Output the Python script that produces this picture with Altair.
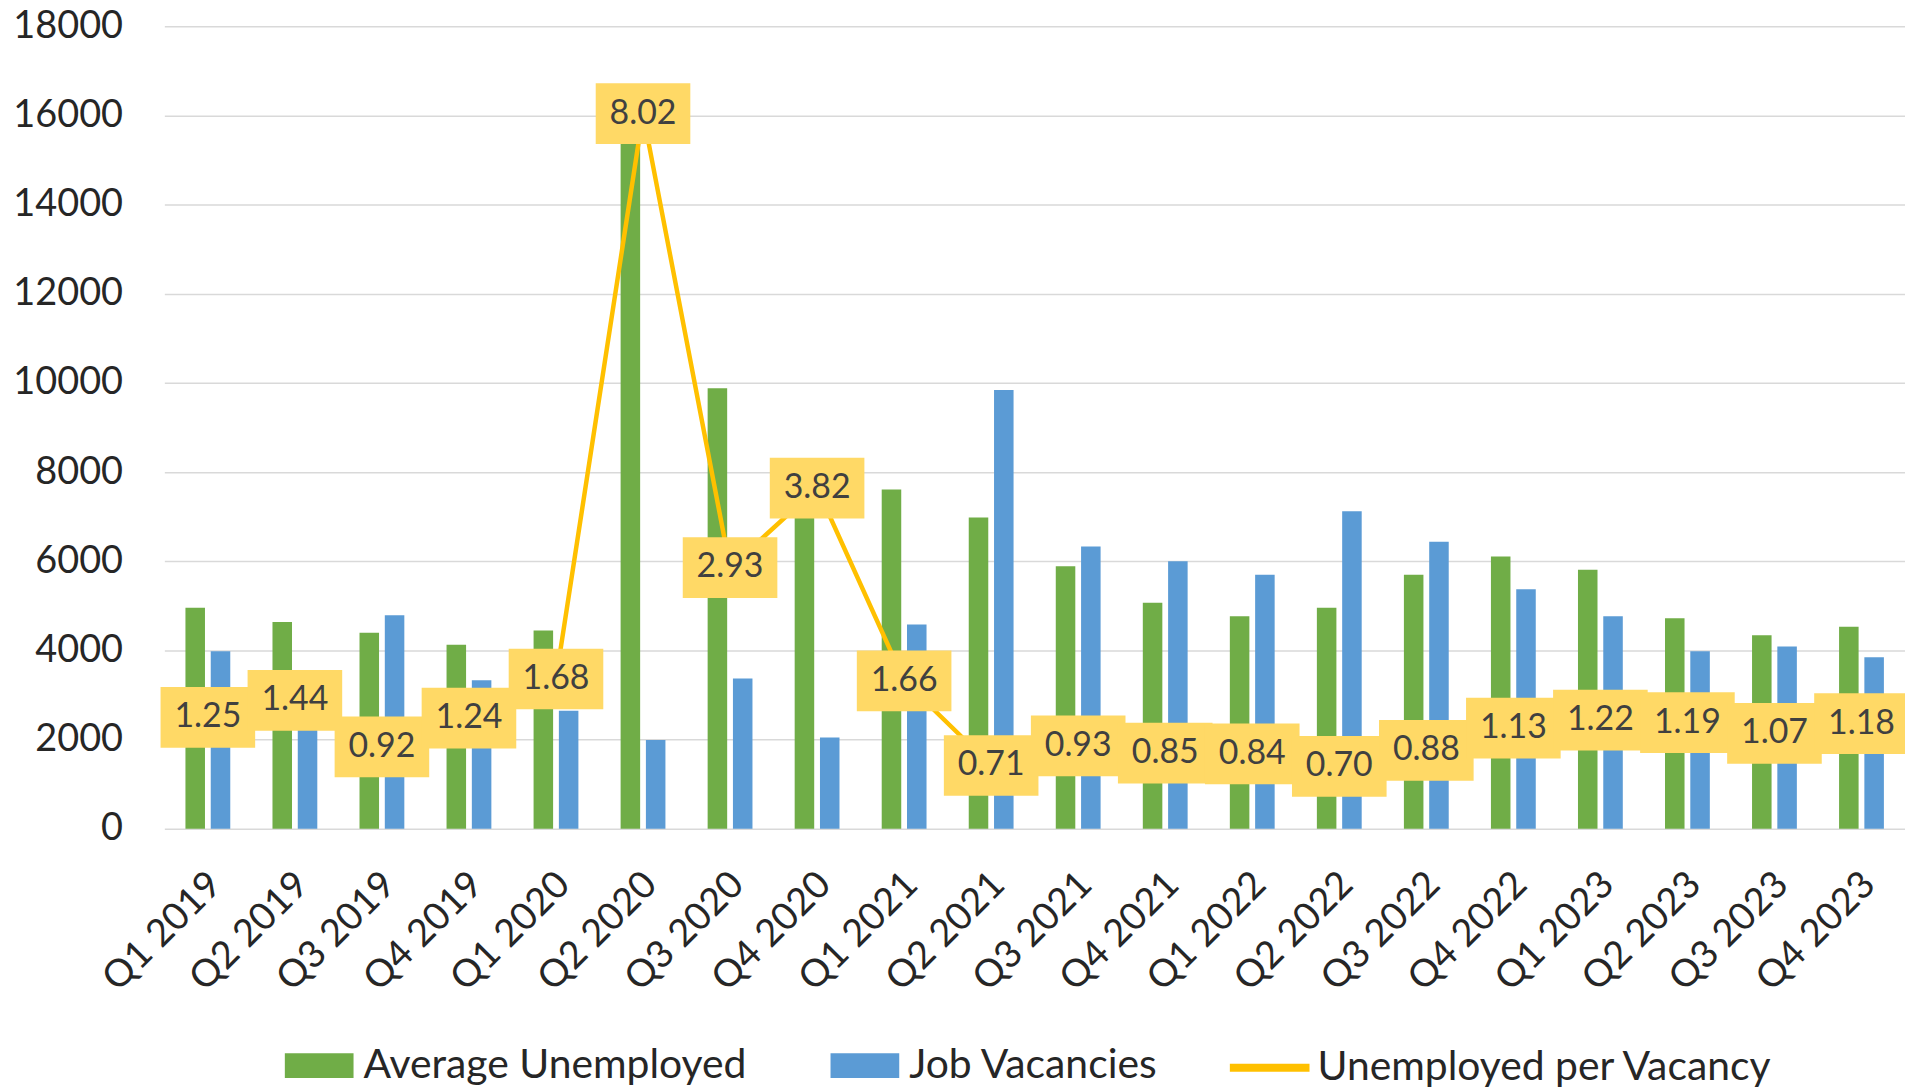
import altair as alt
import pandas as pd

quarters = ["Q1 2019", "Q2 2019", "Q3 2019", "Q4 2019",
            "Q1 2020", "Q2 2020", "Q3 2020", "Q4 2020",
            "Q1 2021", "Q2 2021", "Q3 2021", "Q4 2021",
            "Q1 2022", "Q2 2022", "Q3 2022", "Q4 2022",
            "Q1 2023", "Q2 2023", "Q3 2023", "Q4 2023"]
unemployed = [4960, 4640, 4400, 4130, 4450, 15960, 9880, 7830, 7610, 6980,
              5890, 5070, 4770, 4960, 5700, 6110, 5810, 4720, 4340, 4530]
vacancies = [3980, 3220, 4790, 3330, 2650, 1990, 3370, 2050, 4580, 9840,
             6330, 6000, 5700, 7120, 6440, 5370, 4770, 3980, 4090, 3850]
ratio = [1.25, 1.44, 0.92, 1.24, 1.68, 8.02, 2.93, 3.82, 1.66, 0.71,
         0.93, 0.85, 0.84, 0.70, 0.88, 1.13, 1.22, 1.19, 1.07, 1.18]
bar_series = ["Average Unemployed", "Job Vacancies"]
line_series = "Unemployed per Vacancy"
y_ticks = [0, 2000, 4000, 6000, 8000, 10000, 12000, 14000, 16000, 18000]

GREEN = "#70AD47"
BLUE = "#5B9BD5"
GOLD = "#FFC000"
BOX = "#FFD966"
FONT = "Lato"
TXT = "#262626"

rows = []
for q, u, v in zip(quarters, unemployed, vacancies):
    rows.append({"quarter": q, "series": bar_series[0], "value": u})
    rows.append({"quarter": q, "series": bar_series[1], "value": v})
bar_df = pd.DataFrame(rows)

line_df = pd.DataFrame({
    "quarter": quarters,
    "ratio": ratio,
    "label": [f"{r:.2f}" for r in ratio],
    "series": [line_series] * len(quarters),
})

x_enc = alt.X(
    "quarter:N", sort=quarters,
    scale=alt.Scale(paddingInner=0.485, paddingOuter=0.2425),
    axis=alt.Axis(title=None, labelAngle=-45, labelAlign="right",
                  labelBaseline="middle", labelFontSize=38, labelFont=FONT,
                  labelColor=TXT, labelPadding=50, labelOffset=8,
                  ticks=False, domain=False, grid=False),
)

ratio_scale = alt.Scale(domain=[0, 9])

bars = alt.Chart(bar_df).mark_bar().encode(
    x=x_enc,
    xOffset=alt.XOffset("series:N", sort=bar_series,
                        scale=alt.Scale(paddingInner=0.228, paddingOuter=0)),
    y=alt.Y("value:Q", scale=alt.Scale(domain=[0, 18000]),
            axis=alt.Axis(values=y_ticks, format="d", title=None, grid=True,
                          gridColor="#D9D9D9", gridWidth=1.5, domain=False,
                          ticks=False, labelFontSize=38, labelFont=FONT,
                          labelColor=TXT, labelPadding=42)),
    fill=alt.Fill("series:N", sort=bar_series,
                  scale=alt.Scale(domain=bar_series, range=[GREEN, BLUE]),
                  legend=alt.Legend(orient="none", legendX=121, legendY=1009,
                                    direction="horizontal", title=None,
                                    symbolType="M-1,-0.36H1V0.36H-1Z",
                                    symbolSize=4761, symbolStrokeWidth=0,
                                    labelFontSize=41, labelFont=FONT,
                                    labelColor=TXT, labelOffset=10,
                                    columnPadding=84, labelLimit=1000)),
)

line = alt.Chart(line_df).mark_line(strokeWidth=4.5).encode(
    x=alt.X("quarter:N", sort=quarters),
    y=alt.Y("ratio:Q", scale=ratio_scale, axis=None),
    stroke=alt.Stroke("series:N",
                      scale=alt.Scale(domain=[line_series], range=[GOLD]),
                      legend=alt.Legend(orient="none", legendX=1066, legendY=1002,
                                        direction="horizontal", title=None,
                                        symbolType="stroke", symbolSize=6400,
                                        symbolStrokeWidth=8,
                                        labelFontSize=41, labelFont=FONT,
                                        labelColor=TXT, labelOffset=4,
                                        labelLimit=1000)),
)

boxes = alt.Chart(line_df).mark_point(
    shape="M-1,-0.642H1V0.642H-1Z", size=9025, filled=True,
    fill=BOX, opacity=1, strokeWidth=0,
).encode(
    x=alt.X("quarter:N", sort=quarters),
    y=alt.Y("ratio:Q", scale=ratio_scale, axis=None),
)

labels = alt.Chart(line_df).mark_text(
    font=FONT, fontSize=34, color="#404040", align="center", baseline="middle",
).encode(
    x=alt.X("quarter:N", sort=quarters),
    y=alt.Y("ratio:Q", scale=ratio_scale, axis=None),
    text="label:N",
)

chart = alt.layer(bars, line, boxes, labels).resolve_scale(
    y="independent", color="independent"
).properties(
    width=1748, height=806,
    padding={"left": 157, "top": 16, "right": 0, "bottom": 260},
    autosize=alt.AutoSizeParams(type="none"),
).configure_view(stroke=None)

chart.save("out.html", embed_options={"renderer": "svg", "actions": False})
